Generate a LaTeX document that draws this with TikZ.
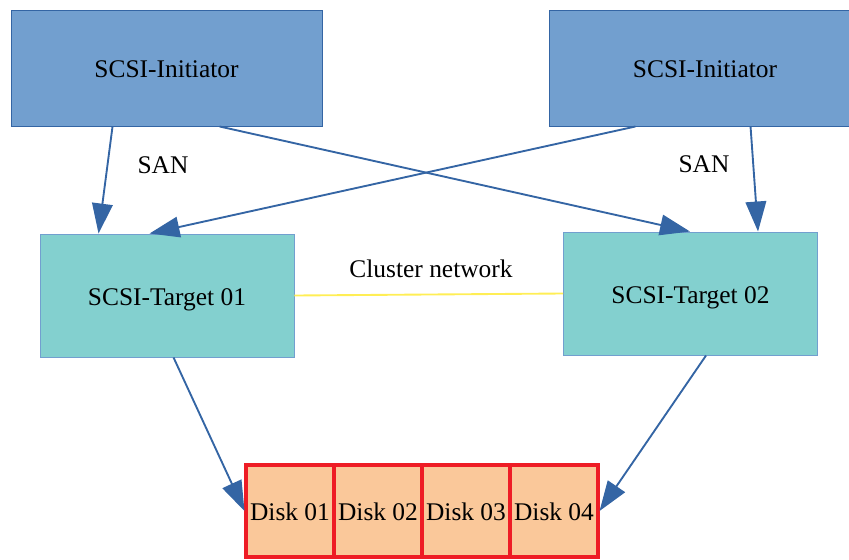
\documentclass[tikz,border=0pt]{standalone}
\usepackage{fontspec}
\setmainfont{Liberation Serif}
\usetikzlibrary{arrows.meta,calc}

\definecolor{initfill}{HTML}{729FCF}
\definecolor{initline}{HTML}{3465A4}
\definecolor{targfill}{HTML}{83D0CF}
\definecolor{diskfill}{HTML}{FAC89A}
\definecolor{diskline}{HTML}{EE1C25}
\definecolor{clusline}{HTML}{FFEE55}

\tikzset{
	boxtext/.style={text height=16.8pt,text depth=0pt},
	initbox/.style={boxtext,draw=initline,fill=initfill,line width=0.8pt,minimum height=116*0.03cm},
	targbox/.style={boxtext,draw=initfill,fill=targfill,line width=0.8pt,minimum width=254*0.03cm,minimum height=123*0.03cm},
	diskbox/.style={boxtext,draw=diskline,fill=diskfill,line width=2.6pt,inner sep=0pt,minimum width=88*0.03cm,minimum height=92*0.03cm},
	san/.style={draw=initline,line width=1.6pt,-{Triangle[length=0.9cm,width=0.62cm]}},
	clus/.style={draw=clusline,line width=1.6pt},
	txt/.style={font=\fontsize{21.7}{26}\selectfont}
}

\begin{document}
\begin{tikzpicture}[x=0.03cm,y=-0.03cm,txt]
	\useasboundingbox (0,0) rectangle (849,559);

	% os iniciadores e os alvos
		\node[initbox,minimum width=311*0.03cm] (init1) at (166.5,68) {SCSI-Initiator};
		\node[initbox,minimum width=312*0.03cm] (init2) at (705,68) {SCSI-Initiator};
		\node[targbox] (targ1) at (167,295.5) {SCSI-Target 01};
		\node[targbox] (targ2) at (690.5,293.5) {SCSI-Target 02};

	% os discos
		\foreach \i/\x in {1/290,2/378,3/466,4/554}
			\node[diskbox] (disk\i) at (\x,511) {Disk 0\i};

	% as ligacoes
		\draw[clus] (targ1.east) -- (targ2.west);
		\node (clu) at (431,269) {Cluster network};
		\node (san1) at (163,165) {SAN};
		\node (san2) at (704,164) {SAN};

		\draw[san] ($(init1.south west)+(102,0)$) -- ($(targ1.north west)+(59,0)$);
		\draw[san] ($(init1.south west)+(209,0)$) -- ($(targ2.north west)+(127,0)$);
		\draw[san] ($(init2.south west)+(87,0)$) -- ($(targ1.north west)+(110,0)$);
		\draw[san] ($(init2.south west)+(202,0)$) -- ($(targ2.north west)+(195,0)$);
		\draw[san] ($(targ1.south west)+(134,0)$) -- (disk1.west);
		\draw[san] ($(targ2.south west)+(143,0)$) -- (disk4.east);
\end{tikzpicture}
\end{document}
